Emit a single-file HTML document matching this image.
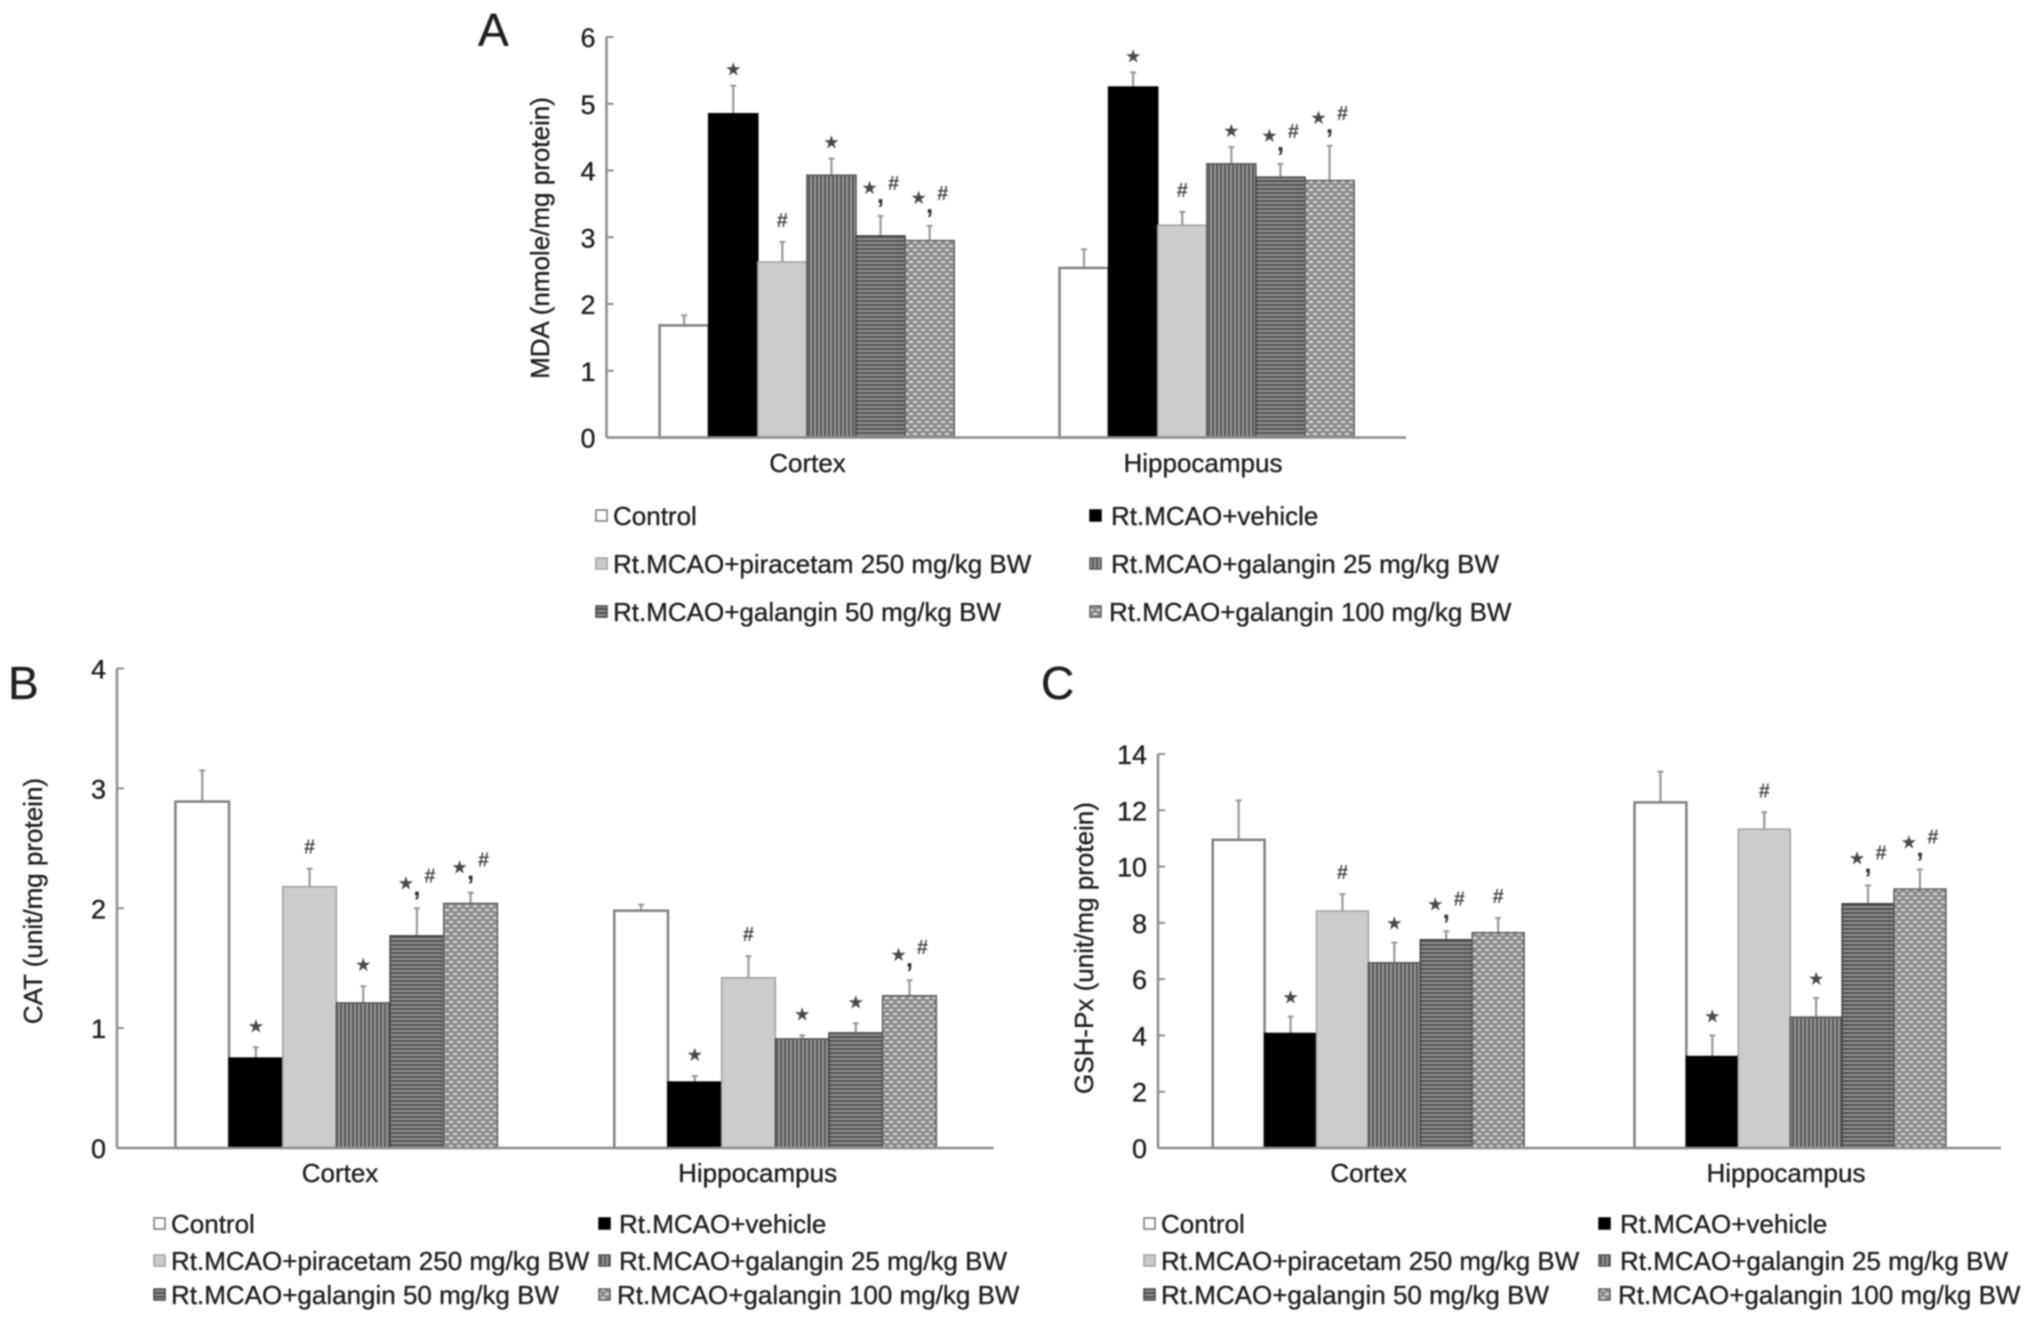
<!DOCTYPE html>
<html lang="en">
<head>
<meta charset="utf-8">
<title>MDA, CAT and GSH-Px bar charts</title>
<style>
html,body{margin:0;padding:0;background:#fff;width:2032px;height:1322px;overflow:hidden}
svg{display:block;filter:blur(0.7px)}
text{font-family:"Liberation Sans",sans-serif;fill:#1f1f1f;stroke:#1f1f1f;stroke-width:0.35px}
</style>
</head>
<body>
<svg id="figure" xmlns="http://www.w3.org/2000/svg" width="2032" height="1322" viewBox="0 0 2032 1322">
<defs>
<pattern id="fill-vertical" patternUnits="userSpaceOnUse" width="4" height="4"><rect width="4" height="4" fill="#969696"/><rect width="2" height="4" fill="#5a5a5a"/></pattern>
<pattern id="fill-horizontal" patternUnits="userSpaceOnUse" width="4" height="4"><rect width="4" height="4" fill="#909090"/><rect width="4" height="2" fill="#505050"/></pattern>
<pattern id="fill-dots" patternUnits="userSpaceOnUse" width="8" height="8"><rect width="8" height="8" fill="#8c8c8c"/><rect x="1" y="1" width="4" height="2" fill="#dcdcdc"/><rect x="5" y="5" width="4" height="2" fill="#dcdcdc"/><rect x="-3" y="5" width="4" height="2" fill="#dcdcdc"/></pattern>
</defs>
</svg>
<script>
// Shared categories and legend
const categories = ["Cortex", "Hippocampus"];
const seriesNames = ["Control", "Rt.MCAO+vehicle", "Rt.MCAO+piracetam 250 mg/kg BW", "Rt.MCAO+galangin 25 mg/kg BW", "Rt.MCAO+galangin 50 mg/kg BW", "Rt.MCAO+galangin 100 mg/kg BW"];

// Panel A: MDA
const mdaTicks = [0, 1, 2, 3, 4, 5, 6];
const mdaCortex = [1.68, 4.85, 2.63, 3.93, 3.02, 2.95];
const mdaHippocampus = [2.54, 5.25, 3.18, 4.10, 3.90, 3.85];
const mdaCortexErr = [0.15, 0.42, 0.30, 0.25, 0.30, 0.22];
const mdaHippocampusErr = [0.28, 0.22, 0.20, 0.25, 0.20, 0.52];
const mdaCortexSig = ["", "*", "#", "*", "*,#", "*,#"];
const mdaHippocampusSig = ["", "*", "#", "*", "*,#", "*,#"];

// Panel B: CAT
const catTicks = [0, 1, 2, 3, 4];
const catCortex = [2.89, 0.75, 2.18, 1.21, 1.77, 2.04];
const catHippocampus = [1.98, 0.55, 1.42, 0.91, 0.96, 1.27];
const catCortexErr = [0.26, 0.09, 0.15, 0.14, 0.23, 0.09];
const catHippocampusErr = [0.05, 0.05, 0.18, 0.03, 0.08, 0.13];
const catCortexSig = ["", "*", "#", "*", "*,#", "*,#"];
const catHippocampusSig = ["", "*", "#", "*", "*", "*,#"];

// Panel C: GSH-Px
const gshTicks = [0, 2, 4, 6, 8, 10, 12, 14];
const gshCortex = [10.95, 4.07, 8.42, 6.58, 7.40, 7.65];
const gshHippocampus = [12.28, 3.25, 11.33, 4.65, 8.68, 9.20];
const gshCortexErr = [1.40, 0.60, 0.60, 0.72, 0.30, 0.52];
const gshHippocampusErr = [1.09, 0.75, 0.60, 0.68, 0.65, 0.70];
const gshCortexSig = ["", "*", "#", "*", "*,#", "#"];
const gshHippocampusSig = ["", "*", "#", "*", "*,#", "*,#"];

const NS = "http://www.w3.org/2000/svg";
const root = document.getElementById("figure");
const seriesFill = ["#ffffff", "#000000", "#cccccc", "url(#fill-vertical)", "url(#fill-horizontal)", "url(#fill-dots)"];
const seriesStroke = ["#808080", "#000000", "#a0a0a0", "#555555", "#444444", "#5c5c5c"];
const seriesKeys = ["control", "vehicle", "piracetam", "galangin-25", "galangin-50", "galangin-100"];

function make(tag, attrs, parent) {
  const el = document.createElementNS(NS, tag);
  for (const k in attrs) el.setAttribute(k, attrs[k]);
  parent.appendChild(el);
  return el;
}

function label(parent, x, y, str, size, anchor, name) {
  const t = make("text", {x: x, y: y, "font-size": size, "text-anchor": anchor}, parent);
  t.textContent = str;
  
  
  return t;
}

function drawSignificance(parent, cx, topY, sig, name, starGap, comboGap) {
  if (!sig) return;
  const combo = sig.indexOf(",") >= 0;
  if (sig.indexOf("*") >= 0) {
    const sx = combo ? cx - 11 : cx;
    const sy = combo ? topY - comboGap : topY - starGap;
    const star = make("text", {x: sx, y: sy + 7, "font-size": 18.5, "text-anchor": "middle", style: "font-family:'DejaVu Sans',sans-serif;fill:#484848;stroke:none"}, parent);
    star.textContent = "\u2605";
    
    
  }
  if (combo) {
    const comma = make("text", {x: cx, y: topY - 13, "font-size": 26, "font-weight": "bold", "text-anchor": "middle", style: "fill:#333;stroke:none"}, parent);
    comma.textContent = ",";
    
    
  }
  if (sig.indexOf("#") >= 0) {
    const hx = combo ? cx + 13 : cx;
    const hy = combo ? topY - 33 : topY - 22;
    const hash = make("text", {x: hx, y: hy + 7, "font-size": 20, "font-weight": "bold", "text-anchor": "middle", style: "fill:#4a4a4a;stroke:none"}, parent);
    hash.textContent = "#";
    
    
  }
}

function drawPanel(p) {
  const g = make("g", {}, root);
  
  

  const yMax = p.ticks[p.ticks.length - 1];
  const yScale = v => p.y0 - (v / yMax) * (p.y0 - p.yTop);
  const xScale = (groupIndex, seriesIndex) => p.groupStart[groupIndex] + seriesIndex * p.barW;

  // panel letter
  label(g, p.letterX, p.letterY, p.id.toUpperCase(), 46, "start", "panel-letter-" + p.id);

  // bars and error bars
  p.means.forEach((groupValues, gi) => {
    groupValues.forEach((v, si) => {
      const x = xScale(gi, si);
      const y = yScale(v);
      const topY = yScale(v + p.errs[gi][si]);
      const cx = x + p.barW / 2;
      const err = make("line", {x1: cx, x2: cx, y1: y, y2: topY, stroke: "#999", "stroke-width": 2.2}, g);
      
      
      const cap = make("line", {x1: cx - 3, x2: cx + 3, y1: topY, y2: topY, stroke: "#999", "stroke-width": 2}, g);
      
      
      const bar = make("rect", {x: x, y: y, width: p.barW, height: p.y0 - y, fill: seriesFill[si], stroke: seriesStroke[si], "stroke-width": si === 0 ? 2.5 : 1.5}, g);
      
      
      drawSignificance(g, cx, topY, p.sigs[gi][si], "significance-" + categories[gi].toLowerCase() + "-" + seriesKeys[si], p.starGap, p.comboGap);
    });
  });

  // axes
  const yAxis = make("line", {x1: p.x0, x2: p.x0, y1: p.yTop, y2: p.y0, stroke: "#8c8c8c", "stroke-width": 2.5}, g);
  
  
  const xAxis = make("line", {x1: p.x0, x2: p.x1, y1: p.y0, y2: p.y0, stroke: "#8c8c8c", "stroke-width": 2.5}, g);
  
  

  // ticks
  p.ticks.forEach(t => {
    const y = yScale(t);
    const tick = make("line", {x1: p.x0, x2: p.x0 + 7, y1: y, y2: y, stroke: "#8c8c8c", "stroke-width": 2}, g);
    
    
    label(g, p.x0 - 11, y + 10, String(t), 27, "end", "y-tick-label-" + t);
  });

  // category labels
  categories.forEach((c, i) => {
    label(g, p.catX[i], p.catY, c, 26, "middle", "category-label-" + c.toLowerCase());
  });

  // y title
  const title = make("text", {transform: "translate(" + p.titleX + "," + p.titleY + ") rotate(-90)", "font-size": 26, "text-anchor": "middle"}, g);
  title.textContent = p.title;
  
  

  // legend
  seriesNames.forEach((s, i) => {
    const col = i % 2;
    const row = Math.floor(i / 2);
    const sw = make("rect", {x: p.legendSwatch[col], y: p.legendRows[row] - 6, width: 11, height: 11, fill: seriesFill[i], stroke: i === 0 ? "#777" : seriesStroke[i], "stroke-width": 1.5}, g);
    
    
    label(g, p.legendText[col] - (i === 5 ? 2 : 0), p.legendRows[row] + 9, s, 26, "start", "legend-entry-" + seriesKeys[i]);
  });
}

drawPanel({
  id: "a", title: "MDA (nmole/mg protein)", ticks: mdaTicks,
  means: [mdaCortex, mdaHippocampus], errs: [mdaCortexErr, mdaHippocampusErr], sigs: [mdaCortexSig, mdaHippocampusSig],
  x0: 606.5, x1: 1406, y0: 437.5, yTop: 37, groupStart: [659.6, 1059.5], barW: 49.1,
  catX: [807.5, 1203], catY: 472, titleX: 549, titleY: 238, letterX: 478, letterY: 46,
  legendSwatch: [596, 1090], legendText: [613, 1111], legendRows: [516, 564, 612],
  starGap: 17, comboGap: 29
});
drawPanel({
  id: "b", title: "CAT (unit/mg protein)", ticks: catTicks,
  means: [catCortex, catHippocampus], errs: [catCortexErr, catHippocampusErr], sigs: [catCortexSig, catHippocampusSig],
  x0: 117, x1: 993.5, y0: 1148, yTop: 668.5, groupStart: [175.4, 614.3], barW: 53.67,
  catX: [340, 757.6], catY: 1182, titleX: 42, titleY: 901, letterX: 8, letterY: 699,
  legendSwatch: [154, 599], legendText: [171, 619], legendRows: [1224, 1261, 1295],
  starGap: 22, comboGap: 26
});
drawPanel({
  id: "c", title: "GSH-Px (unit/mg protein)", ticks: gshTicks,
  means: [gshCortex, gshHippocampus], errs: [gshCortexErr, gshHippocampusErr], sigs: [gshCortexSig, gshHippocampusSig],
  x0: 1158, x1: 2001, y0: 1148, yTop: 754, groupStart: [1212.7, 1634.5], barW: 51.9,
  catX: [1368.7, 1786], catY: 1182, titleX: 1093, titleY: 948, letterX: 1041, letterY: 699,
  legendSwatch: [1144, 1599], legendText: [1161, 1620], legendRows: [1224, 1261, 1295],
  starGap: 20, comboGap: 28
});
</script>
</body>
</html>
